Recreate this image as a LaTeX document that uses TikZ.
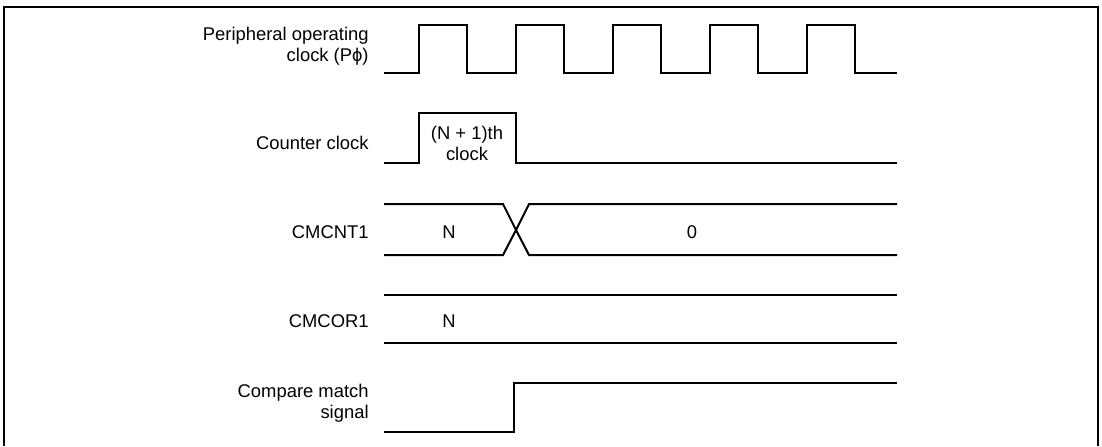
\documentclass[tikz,border=0pt]{standalone}
\usepackage{fontspec}
\setmainfont{Liberation Sans}
\begin{document}
\begin{tikzpicture}[x=0.5pt, y=-0.5pt, line join=miter,
  font=\fontsize{9.2}{10.5}\selectfont,
  sig/.style={line width=1pt},
  lbl/.style={anchor=east, align=right, inner sep=0pt},
  val/.style={inner sep=0pt, align=center}]
  \useasboundingbox (0,0) rectangle (1102,446);

  % Frame
  \draw[line width=1.2pt] (4,446) -- (4,7) -- (1098,7) -- (1098,446);

  % Signal names
  \node[lbl] (pclk) at (369,46) {Peripheral operating\\clock (Pϕ)};
  \node[lbl] (cclk) at (369,143) {Counter clock};
  \node[lbl] (cnt) at (369,232) {CMCNT1};
  \node[lbl] (cor) at (369,321) {CMCOR1};
  \node[lbl] (cmp) at (369,403) {Compare match\\signal};

  % Peripheral operating clock
  \draw[sig] (384,73) \foreach \t in {419,516,613,710,807} {
      -- (\t,73) -- (\t,25) -- (\t+48,25) -- (\t+48,73) } -- (897,73);

  % Counter clock
  \draw[sig] (384,163) -- (419,163) -- (419,113) -- (516,113) -- (516,163) -- (897,163);
  \node[val] (nth) at (467,143) {(N + 1)th\\clock};

  % CMCNT1: N changes to 0
  \coordinate (X) at (516,230);
  \draw[sig] (384,204) -- (503,204) -- (X) -- (529,255) -- (897,255);
  \draw[sig] (384,255) -- (503,255) -- (X) -- (529,204) -- (897,204);
  \node[val] (cntN) at (449,232) {N};
  \node[val] (cnt0) at (692,232) {0};

  % CMCOR1
  \draw[sig] (384,295) -- (897,295);
  \draw[sig] (384,343) -- (897,343);
  \node[val] (corN) at (449,321) {N};

  % Compare match signal
  \draw[sig] (384,432) -- (514,432) -- (514,383) -- (897,383);
\end{tikzpicture}
\end{document}
